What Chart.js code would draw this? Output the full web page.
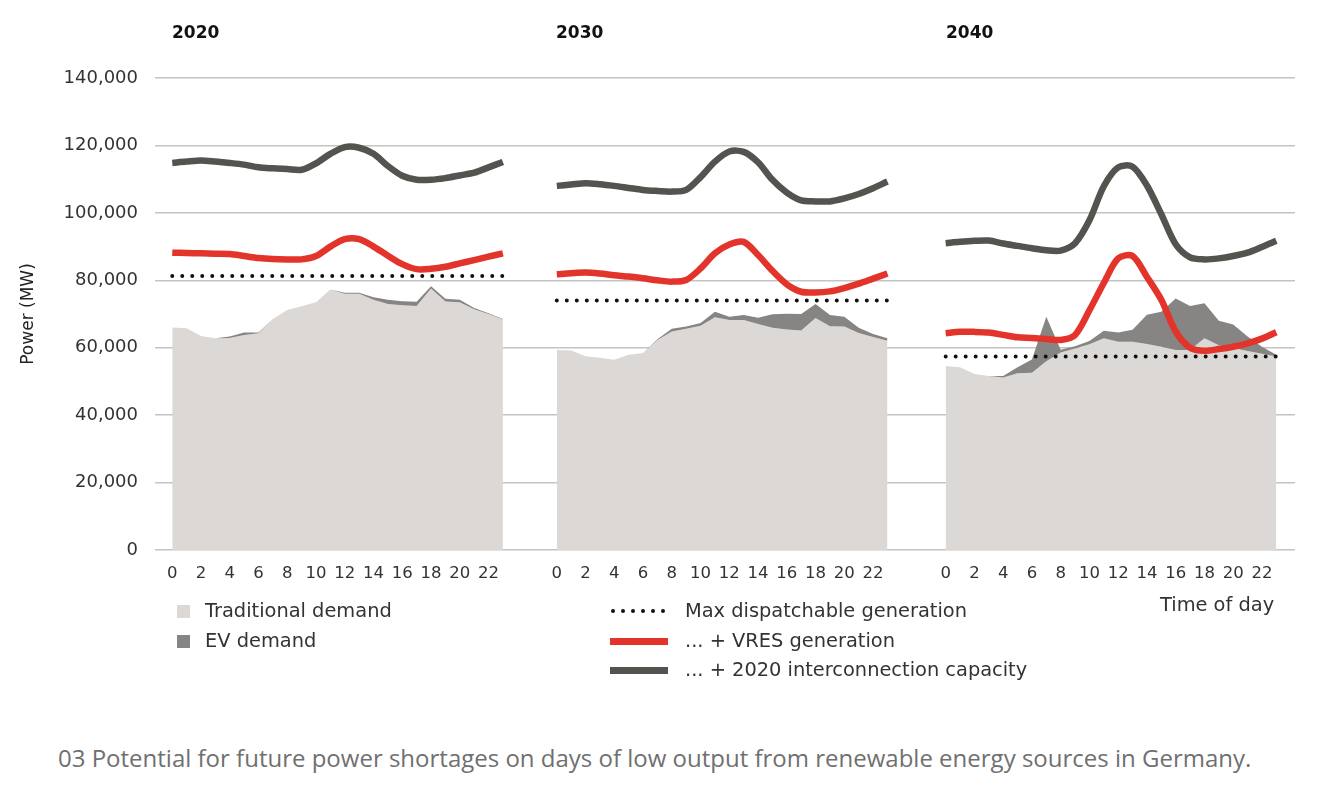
<!DOCTYPE html>
<html>
<head>
<meta charset="utf-8">
<script src="https://cdn.jsdelivr.net/npm/chart.js@4.4.1/dist/chart.umd.min.js"></script>
<style>
    body { margin: 0; background: #fff; font-family: "DejaVu Sans", sans-serif; }
    #wrap { position: relative; width: 1325px; height: 802px; }
    #chartBox { position: absolute; left: 0; top: 0; width: 1325px; height: 600px; }
    .year { position: absolute; top: 22px; font-weight: bold; font-size: 17px; color: #111; }
    .lg { position: absolute; font-size: 19.4px; color: #333; line-height: 22px; }
    .sq { position: absolute; width: 13px; height: 13px; }
    .ln { position: absolute; width: 58px; height: 7px; }
    .dots { position: absolute; display: flex; gap: 6px; }
    .dots span { width: 4px; height: 4px; border-radius: 50%; background: #111; }
    #caption { position: absolute; left: 58px; top: 741px; font-family: "Open Sans", sans-serif; font-size: 24px; color: #707070; white-space: nowrap; }
</style>
</head>
<body>
<div id="wrap">
    <div id="chartBox"><canvas id="powerChart"></canvas></div>
    <div class="year" style="left:172px">2020</div>
    <div class="year" style="left:556px">2030</div>
    <div class="year" style="left:946px">2040</div>

    <div class="sq" style="left:177px;top:605px;background:#dbd8d5"></div>
    <div class="lg" style="left:205px;top:600px">Traditional demand</div>
    <div class="sq" style="left:177px;top:635px;background:#878583"></div>
    <div class="lg" style="left:205px;top:630px">EV demand</div>

    <div class="dots" style="left:611px;top:609px"><span></span><span></span><span></span><span></span><span></span><span></span></div>
    <div class="lg" style="left:685px;top:600px">Max dispatchable generation</div>
    <div class="ln" style="left:610px;top:638px;background:#e3342c"></div>
    <div class="lg" style="left:685px;top:630px">... + VRES generation</div>
    <div class="ln" style="left:610px;top:667px;background:#54534f"></div>
    <div class="lg" style="left:685px;top:659px">... + 2020 interconnection capacity</div>

    <div class="lg" style="left:1160px;top:594px">Time of day</div>
    <div id="caption">03 Potential for future power shortages on days of low output from renewable energy sources in Germany.</div>
</div>
<script>
// hours of the day, one point per hour
const hours = [0, 1, 2, 3, 4, 5, 6, 7, 8, 9, 10, 11, 12, 13, 14, 15, 16, 17, 18, 19, 20, 21, 22, 23]
const hourTicks = [0, 2, 4, 6, 8, 10, 12, 14, 16, 18, 20, 22]
const panelYears = ['2020', '2030', '2040']

// MW values
const traditional2020 = [66000, 65800, 63500, 62800, 62900, 63800, 64300, 68500, 71200, 72300, 73500, 77300, 76000, 76000, 74200, 73000, 72600, 72400, 77600, 73700, 73500, 71400, 70000, 68400]
const ev2020 = [0, 0, 0, 0, 400, 700, 200, 0, 0, 0, 0, 0, 300, 300, 800, 1200, 1200, 1200, 600, 800, 700, 400, 200, 100]
const vres2020 = [88200, 88100, 88000, 87900, 87800, 87200, 86600, 86300, 86200, 86200, 87200, 90000, 92200, 92200, 90000, 87300, 84800, 83300, 83400, 84000, 85000, 86000, 87000, 88000]
const interconn2020 = [114800, 115200, 115500, 115200, 114800, 114300, 113500, 113200, 113000, 112800, 114700, 117500, 119500, 119300, 117500, 113900, 111000, 109800, 109800, 110300, 111100, 111900, 113500, 115100]

const traditional2030 = [59300, 59200, 57500, 57000, 56400, 57900, 58400, 62300, 64800, 65600, 66500, 69000, 68200, 68200, 67000, 65900, 65400, 65100, 68800, 66400, 66300, 64400, 63200, 62100]
const ev2030 = [0, 0, 0, 0, 0, 0, 0, 200, 800, 700, 800, 1700, 1000, 1500, 1900, 4000, 4700, 4900, 4200, 3300, 2900, 1500, 900, 700]
const vres2030 = [81800, 82100, 82300, 82000, 81500, 81100, 80600, 80000, 79600, 80100, 83500, 88000, 90600, 91400, 87500, 82800, 78800, 76600, 76400, 76700, 77700, 79000, 80500, 82000]
const interconn2030 = [108000, 108400, 108800, 108500, 108000, 107400, 106800, 106500, 106300, 106800, 110600, 115200, 118200, 118100, 115000, 109800, 106000, 103700, 103400, 103400, 104300, 105600, 107300, 109300]

const traditional2040 = [54600, 54200, 52200, 51600, 51200, 52400, 52600, 56000, 58600, 59800, 61000, 62800, 61800, 61800, 61100, 60300, 59300, 59300, 62800, 60700, 59900, 59000, 58200, 57400]
const ev2040 = [0, 0, 0, 0, 400, 1800, 3900, 13200, 800, 600, 1000, 2200, 2700, 3500, 8700, 10400, 15300, 13100, 10400, 7300, 7000, 4300, 2100, 500]
const vres2040 = [64300, 64700, 64700, 64500, 63800, 63100, 62900, 62600, 62300, 63800, 71100, 79200, 86500, 87200, 81000, 74200, 64800, 60000, 59100, 59600, 60300, 61300, 62700, 64600]
const interconn2040 = [91000, 91400, 91700, 91800, 90900, 90200, 89500, 88900, 88800, 91000, 97800, 107900, 113500, 113700, 108100, 99600, 90700, 86800, 86200, 86500, 87200, 88200, 89900, 91700]

const maxDispatchable = [81300, 74000, 57400]
const yTicks = [0, 20000, 40000, 60000, 80000, 100000, 120000, 140000]

const traditional = [traditional2020, traditional2030, traditional2040]
const evDemand = [ev2020, ev2030, ev2040]
const vres = [vres2020, vres2030, vres2040]
const interconn = [interconn2020, interconn2030, interconn2040]

// where each year's day starts on the shared x axis (in hours)
const panelOffsets = [0, 26.75, 53.8]

const datasets = []
panelYears.forEach((year, p) => {
    const off = panelOffsets[p]
    datasets.push({
        label: 'Traditional demand ' + year,
        data: hours.map((h, i) => ({ x: off + h, y: traditional[p][i] })),
        backgroundColor: '#dbd8d5',
        borderWidth: 0,
        fill: 'origin',
        tension: 0,
        order: 5
    })
    datasets.push({
        label: 'EV demand ' + year,
        data: hours.map((h, i) => ({ x: off + h, y: traditional[p][i] + evDemand[p][i] })),
        backgroundColor: '#878583',
        borderWidth: 0,
        fill: '-1',
        tension: 0,
        order: 4
    })
    datasets.push({
        label: 'Max dispatchable ' + year,
        data: [{ x: off + hours[0], y: maxDispatchable[p] }, { x: off + hours[hours.length - 1], y: maxDispatchable[p] }],
        borderColor: '#111',
        borderWidth: 4,
        borderDash: [0, 10],
        borderCapStyle: 'round',
        fill: false,
        order: 1
    })
    datasets.push({
        label: 'VRES ' + year,
        data: hours.map((h, i) => ({ x: off + h, y: vres[p][i] })),
        borderColor: '#e3342c',
        borderWidth: 6.5,
        fill: false,
        tension: 0.3,
        order: 2
    })
    datasets.push({
        label: 'Interconnection ' + year,
        data: hours.map((h, i) => ({ x: off + h, y: interconn[p][i] })),
        borderColor: '#54534f',
        borderWidth: 6.5,
        fill: false,
        tension: 0.3,
        order: 3
    })
})

new Chart(document.getElementById('powerChart').getContext('2d'), {
    type: 'line',
    data: { datasets },
    options: {
        responsive: true,
        maintainAspectRatio: false,
        animation: false,
        elements: { point: { radius: 0 } },
        layout: { padding: { left: 0, right: 30, top: 78, bottom: 10 } },
        plugins: {
            legend: { display: false },
            tooltip: { enabled: false }
        },
        scales: {
            x: {
                type: 'linear',
                min: -1.2,
                max: 78.1,
                grid: { display: false },
                border: { display: false },
                afterFit: function (scale) { scale.height = 40 },
                afterBuildTicks: function (scale) {
                    const t = []
                    panelOffsets.forEach(off => hourTicks.forEach(h => t.push({ value: off + h })))
                    scale.ticks = t
                },
                ticks: {
                    autoSkip: false,
                    maxRotation: 0,
                    padding: 6,
                    color: '#333',
                    font: { family: 'DejaVu Sans', size: 16.5 },
                    callback: function (value) {
                        let p = 0
                        panelOffsets.forEach((off, i) => { if (value >= off - 0.5) p = i })
                        return Math.round(value - panelOffsets[p])
                    }
                }
            },
            y: {
                min: 0,
                max: 140000,
                afterFit: function (scale) { scale.width = 155 },
                afterBuildTicks: function (scale) {
                    scale.ticks = yTicks.map(v => ({ value: v }))
                },
                grid: { color: '#c4c4c4', lineWidth: 1.5, drawTicks: false },
                border: { display: false },
                ticks: {
                    padding: 17,
                    color: '#333',
                    font: { family: 'DejaVu Sans', size: 18 },
                    callback: function (value) {
                        return value.toLocaleString('en-US')
                    }
                },
                title: {
                    display: true,
                    text: 'Power (MW)',
                    color: '#222',
                    font: { family: 'DejaVu Sans', size: 17 },
                    padding: { top: 18, bottom: 0 }
                }
            }
        }
    }
})
</script>
</body>
</html>
